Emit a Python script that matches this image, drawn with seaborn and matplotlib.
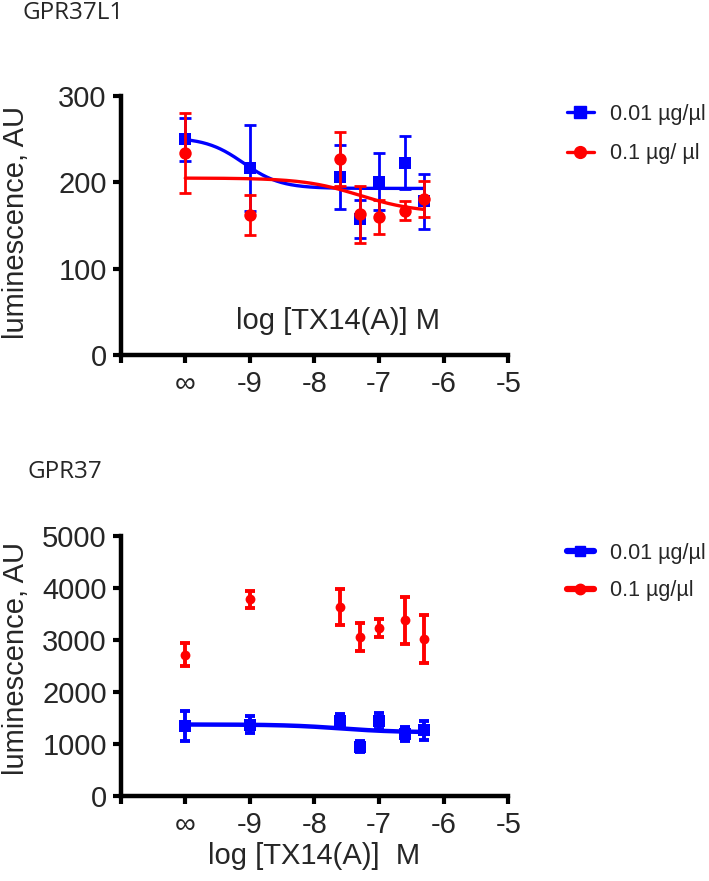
import numpy as np
import pandas as pd
import matplotlib
matplotlib.use("Agg")
import matplotlib.pyplot as plt
from matplotlib.lines import Line2D
import seaborn as sns

# ---------------- data ----------------
log_conc = [-10, -9, -7.6, -7.3, -7, -6.6, -6.3]          # -10 stands for "∞" (no ligand)
xtick_pos = [-11, -10, -9, -8, -7, -6, -5]
xtick_labels = ["", "∞", "-9", "-8", "-7", "-6", "-5"]

# GPR37L1
l1_low_mean = [250, 217, 206, 158, 201, 223, 178]
l1_low_sem = [25, 50, 37, 22, 33, 31, 32]
l1_high_mean = [234, 162, 227, 163, 160, 167, 181]
l1_high_sem = [46, 23, 31, 33, 20, 11, 21]
# fitted 4PL parameters (top, bottom, logEC50, hill)
l1_low_fit = [252, 193, -9.1, 1.5]
l1_high_fit = [205, 165, -7.3, 1.0]

# GPR37
g37_low_mean = [1345, 1370, 1440, 950, 1440, 1190, 1260]
g37_low_sem = [280, 160, 140, 100, 160, 140, 190]
g37_high_mean = [2720, 3780, 3640, 3050, 3230, 3380, 3025]
g37_high_sem = [220, 170, 350, 270, 170, 450, 460]
g37_low_fit = [1375, 1225, -7.6, 1.0]

BLUE = "#0000FF"
RED = "#FF0000"
FS = 21

sns.set_theme(style="ticks")
plt.rcParams["font.family"] = ["Liberation Sans", "DejaVu Sans"]

fig = plt.figure(figsize=(7.09, 8.81), dpi=100)
ax1 = fig.add_axes([0.1702, 0.5970, 0.5467, 0.2940])
ax2 = fig.add_axes([0.1702, 0.0965, 0.5467, 0.2951])


def fit_curve(params, x0=-10, x1=-6.3):
    top, bottom, ec50, hill = params
    xs = np.linspace(x0, x1, 200)
    ys = bottom + (top - bottom) / (1 + 10 ** ((xs - ec50) * hill))
    return pd.DataFrame({"x": xs, "y": ys})


def style_axes(ax, ymax, yticks):
    ax.set_xlim(-11, -5)
    ax.set_ylim(0, ymax)
    ax.set_xticks(xtick_pos)
    ax.set_xticklabels(xtick_labels)
    ax.set_yticks(yticks)
    ax.set_yticklabels([str(v) for v in yticks])
    for s in ["top", "right"]:
        ax.spines[s].set_visible(False)
    for s in ["left", "bottom"]:
        ax.spines[s].set_linewidth(3.2)
        ax.spines[s].set_color("black")
    ax.tick_params(axis="both", length=6, width=3.0, color="black",
                   labelsize=FS, direction="out")
    ax.tick_params(axis="x", pad=5)
    ax.tick_params(axis="y", pad=4)
    ax.set_xlabel("")
    ax.set_ylabel("luminescence, AU", fontsize=FS)


# ---------------- top panel ----------------
df_fit_b = fit_curve(l1_low_fit)
df_fit_r = fit_curve(l1_high_fit)
sns.lineplot(data=df_fit_b, x="x", y="y", ax=ax1, color=BLUE, lw=2.4, zorder=3)
ax1.errorbar(log_conc, l1_low_mean, yerr=l1_low_sem, fmt="none", ecolor=BLUE,
             elinewidth=2.0, capsize=4.0, capthick=2.0, zorder=4)
sns.scatterplot(x=log_conc, y=l1_low_mean, ax=ax1, color=BLUE, marker="s",
                s=75, linewidth=0, zorder=5)
sns.lineplot(data=df_fit_r, x="x", y="y", ax=ax1, color=RED, lw=2.4, zorder=6)
ax1.errorbar(log_conc, l1_high_mean, yerr=l1_high_sem, fmt="none", ecolor=RED,
             elinewidth=2.0, capsize=4.0, capthick=2.0, zorder=7)
sns.scatterplot(x=log_conc, y=l1_high_mean, ax=ax1, color=RED, marker="o",
                s=80, linewidth=0, zorder=8)
style_axes(ax1, 300, [0, 100, 200, 300])
ax1.yaxis.set_label_coords(-0.235, 0.51)
ax1.text(-7.64, 40, "log [TX14(A)] M", fontsize=FS, ha="center", va="center")

h1 = [Line2D([], [], color=BLUE, lw=2.4, marker="s", markersize=8.5),
      Line2D([], [], color=RED, lw=2.4, marker="o", markersize=8.5)]
fig.legend(h1, ["0.01 µg/µl", "0.1 µg/ µl"], loc="upper left",
           bbox_to_anchor=(567 / 709, 1 - 104 / 881), frameon=False,
           fontsize=15.5, handlelength=1.25, handletextpad=0.75, labelspacing=0.85,
           borderpad=0, borderaxespad=0)

# ---------------- bottom panel ----------------
ax2.errorbar(log_conc, g37_high_mean, yerr=g37_high_sem, fmt="none", ecolor=RED,
             elinewidth=2.8, capsize=3.8, capthick=2.8, zorder=3)
sns.scatterplot(x=log_conc, y=g37_high_mean, ax=ax2, color=RED, marker="o",
                s=50, linewidth=0, zorder=4)
ax2.errorbar(log_conc, g37_low_mean, yerr=g37_low_sem, fmt="none", ecolor=BLUE,
             elinewidth=2.8, capsize=3.8, capthick=2.8, zorder=5)
sns.scatterplot(x=log_conc, y=g37_low_mean, ax=ax2, color=BLUE, marker="s",
                s=70, linewidth=0, zorder=6)
df_fit_g = fit_curve(g37_low_fit)
sns.lineplot(data=df_fit_g, x="x", y="y", ax=ax2, color=BLUE, lw=3.2, zorder=7)
style_axes(ax2, 5000, [0, 1000, 2000, 3000, 4000, 5000])
ax2.yaxis.set_label_coords(-0.235, 0.53)
ax2.set_xlabel("log [TX14(A)]  M", fontsize=FS, labelpad=2)

h2 = [Line2D([], [], color=BLUE, lw=4.5, marker="s", markersize=7.5),
      Line2D([], [], color=RED, lw=4.5, marker="o", markersize=7.5)]
fig.legend(h2, ["0.01 µg/µl", "0.1 µg/µl"], loc="upper left",
           bbox_to_anchor=(567 / 709, 1 - 543 / 881), frameon=False,
           fontsize=15.5, handlelength=1.25, handletextpad=0.75, labelspacing=0.75,
           borderpad=0, borderaxespad=0)

# ---------------- panel titles ----------------
fig.text(22 / 709, 1 - 13 / 881, "GPR37L1", fontsize=17.5, family=["Open Sans", "DejaVu Sans"],
         ha="left", va="center")
fig.text(27 / 709, 1 - 472 / 881, "GPR37", fontsize=17.5, family=["Open Sans", "DejaVu Sans"],
         ha="left", va="center")

fig.savefig("out.png", dpi=100)
